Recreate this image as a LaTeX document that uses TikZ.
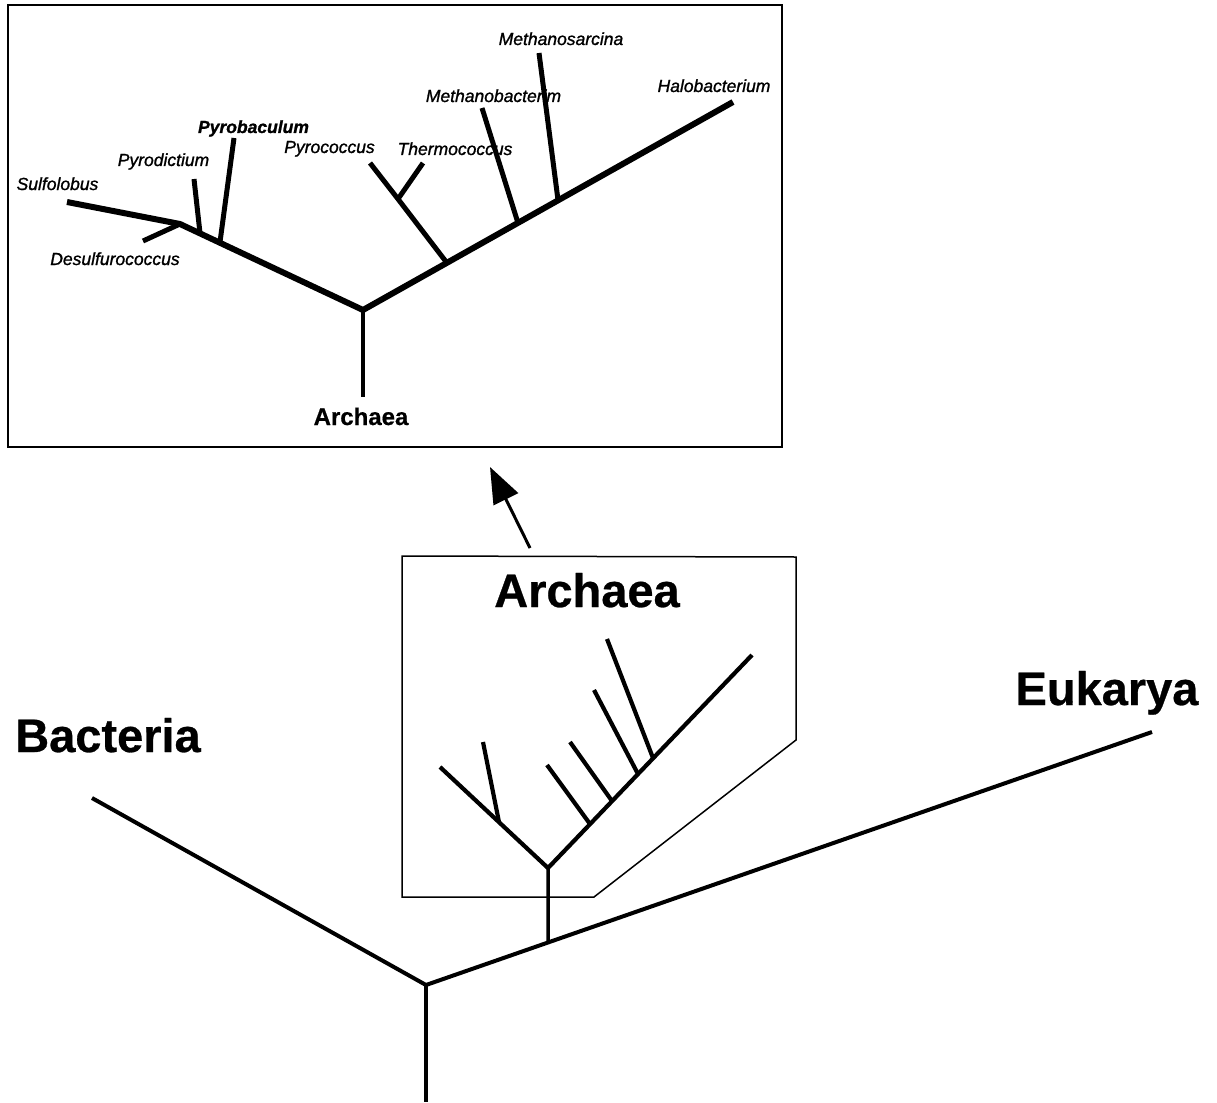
\documentclass[tikz,border=0pt]{standalone}
\usepackage{fontspec}
\setmainfont{Liberation Sans}
\newfontfamily\heavyfamily{Liberation Sans}[FakeBold=1.2]
\newfontfamily\bigfamily{Liberation Sans}[FakeBold=0.6]
\usetikzlibrary{arrows.meta}
\begin{document}
\begin{tikzpicture}[x=1pt,y=-1pt,
  sp/.style={font=\fontsize{17.5}{17.5}\selectfont\heavyfamily\itshape, anchor=base, inner sep=0pt},
  spb/.style={font=\fontsize{17.5}{17.5}\selectfont\heavyfamily\bfseries\itshape, anchor=base, inner sep=0pt},
  big/.style={font=\fontsize{47}{47}\selectfont\bigfamily\bfseries, anchor=base, inner sep=0pt},
  mid/.style={font=\fontsize{24}{24}\selectfont\bigfamily\bfseries, anchor=base, inner sep=0pt},
  trunk/.style={line width=6pt, line join=miter},
  twig/.style={line width=5pt},
  mtree/.style={line width=4.2pt, line join=miter},
  main/.style={line width=4pt, line join=miter},
  frame/.style={line width=2.2pt},
  mframe/.style={line width=1.5pt, line join=miter}]
\useasboundingbox (0,0) rectangle (1217,1102);
\fill[white] (0,0) rectangle (1217,1102);

% ---------------- top box -----------------
\draw[frame] (8,5) rectangle (782,447);
\coordinate (tR) at (363,310);
\coordinate (tS) at (363,397);
\coordinate (tL) at (180,224);
\coordinate (tSul) at (67,202);
\coordinate (tDes) at (143,241);
\coordinate (tHal) at (733,102);
\coordinate (tPdB) at (200,233);
\coordinate (tPdT) at (194,179);
\coordinate (tPbB) at (220,242);
\coordinate (tPbT) at (234,138);
\coordinate (tPcB) at (447,263);
\coordinate (tPcF) at (398,199);
\coordinate (tPcT) at (370,163);
\coordinate (tThT) at (423,163);
\coordinate (tMbB) at (518,223);
\coordinate (tMbT) at (482,108);
\coordinate (tMsB) at (558,200);
\coordinate (tMsT) at (539,53);

\draw[trunk] (tSul) -- (tL) -- (tR) -- (tHal);
\draw[twig] (tL) -- (tDes);
\draw[twig] (tPdB) -- (tPdT);
\draw[twig] (tPbB) -- (tPbT);
\draw[twig] (tPcB) -- (tPcF) -- (tPcT);
\draw[twig] (tPcF) -- (tThT);
\draw[twig] (tMbB) -- (tMbT);
\draw[twig] (tMsB) -- (tMsT);
\draw[line width=4pt] (tR) -- (tS);

\node[sp] (lSul) at (57.5,190) {Sulfolobus};
\node[sp] (lDes) at (115,265) {Desulfurococcus};
\node[sp] (lPd) at (163.5,166) {Pyrodictium};
\node[spb] (lPb) at (253.5,133) {Pyrobaculum};
\node[sp] (lPc) at (329.5,153) {Pyrococcus};
\node[sp] (lTh) at (455,155) {Thermococcus};
\node[sp] (lMb) at (493.5,102) {Methanobacterim};
\node[sp] (lMs) at (561,45) {Methanosarcina};
\node[sp] (lHa) at (714,92) {Halobacterium};
\node[mid] (lArTop) at (361,425) {Archaea};

% ---------------- arrow -----------------
\coordinate (aS) at (530,548);
\coordinate (aT) at (490,467);
\draw[line width=3pt, -{Triangle[length=36pt,width=27pt]}] (aS) -- (aT);

% ---------------- middle box -----------------
\draw[mframe] (402,556) -- (796,557) -- (796,740) -- (594,897) -- (402,897) -- cycle;
\node[big] (lArMid) at (587,607) {Archaea};

\coordinate (mR) at (548,868);
\coordinate (mLt) at (440,767);
\coordinate (mLf) at (499,822);
\coordinate (mLs) at (483,742);
\coordinate (mRt) at (752,655);
\coordinate (m1b) at (590,824);
\coordinate (m1t) at (547,765);
\coordinate (m2b) at (612,801);
\coordinate (m2t) at (570,742);
\coordinate (m3b) at (638,774);
\coordinate (m3t) at (594,690);
\coordinate (m4b) at (653,758);
\coordinate (m4t) at (607,639);

\draw[mtree] (mLt) -- (mR) -- (mRt);
\draw[mtree] (mLf) -- (mLs);
\draw[mtree] (m1b) -- (m1t);
\draw[mtree] (m2b) -- (m2t);
\draw[mtree] (m3b) -- (m3t);
\draw[mtree] (m4b) -- (m4t);

% ---------------- main tree -----------------
\coordinate (C) at (426,985);
\coordinate (B) at (92,798);
\coordinate (E) at (1152,732);
\coordinate (D) at (426,1102);
\coordinate (mDown) at (548,1000);
\coordinate (mJ) at (intersection of C--E and mR--mDown);

\draw[main] (B) -- (C) -- (E);
\draw[line width=3.5pt] (C) -- (D);
\draw[line width=3.5pt] (mR) -- (mJ);

\node[big] (lBac) at (108,752) {Bacteria};
\node[big] (lEuk) at (1107,705) {Eukarya};
\end{tikzpicture}
\end{document}
